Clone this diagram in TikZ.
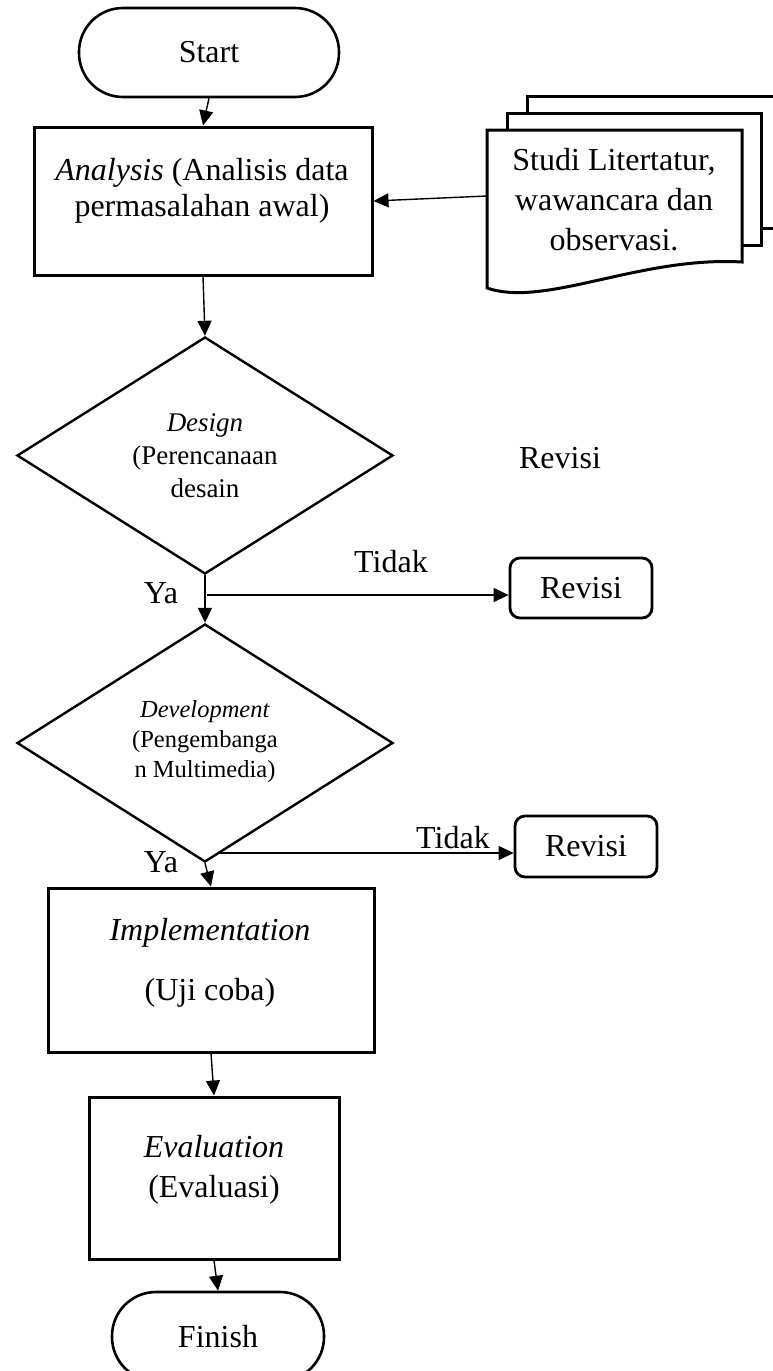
\documentclass[tikz,border=0pt]{standalone}
\usepackage{fontspec}
\setmainfont{Liberation Serif}
\usetikzlibrary{arrows.meta,shapes.geometric}
\begin{document}
\begin{tikzpicture}[x=1pt,y=-1pt,
  box/.style={draw,line width=3pt,inner sep=0pt},
  term/.style={draw,line width=2.6pt,rounded corners=44pt,inner sep=0pt,font=\fontsize{32}{36}\selectfont},
  dec/.style={draw,diamond,line width=2.4pt,inner sep=0pt},
  rev/.style={draw,line width=2.8pt,rounded corners=10pt,inner sep=0pt,minimum width=142pt,minimum height=60pt,font=\fontsize{32}{36}\selectfont},
  docsh/.style={draw,line width=3pt,fill=white},
  txt/.style={inner sep=0pt,anchor=base,align=center,font=\fontsize{32}{36}\selectfont},
  arr/.style={line width=1.4pt,-{Triangle[length=15pt,width=14pt]}},
]
\clip (0,0) rectangle (773,1371);
% terminals
\node[term,minimum width=260pt,minimum height=89pt] (start) at (209,52.5) {Start};
\node[term,minimum width=212pt,minimum height=89pt] (fin) at (218,1336.5) {Finish};
% analysis
\node[box,minimum width=338pt,minimum height=148pt] (ana) at (203,201) {};
\node[txt] (anat) at (202,216) {\textit{Analysis} (Analisis data\\permasalahan awal)};
% documents
\draw[docsh] (527,96) rectangle (795,228);
\draw[docsh] (507,113) rectangle (761,245);
\draw[docsh] (487,130) -- (742,130) -- (742,262)
  .. controls (640,256) and (545,308) .. (487,288) -- cycle;
\node[txt,font=\fontsize{32}{40}\selectfont] (doc) at (614,250) {Studi Litertatur,\\wawancara dan\\observasi.};
\coordinate (docL) at (487,196);
% design
\node[dec,minimum width=376pt,minimum height=237pt] (des) at (205,455.5) {};
\node[txt,font=\fontsize{27}{33}\selectfont] (dest) at (205,497) {\textit{Design}\\(Perencanaan\\desain};
\node[txt] (revlbl) at (560,468) {Revisi};
\node[rev] (rev1) at (581,588) {Revisi};
\node[txt] (tidak1) at (391,572) {Tidak};
\node[txt] (ya1) at (161,603) {Ya};
% development
\node[dec,minimum width=376pt,minimum height=238pt] (dev) at (205,743) {};
\node[txt,font=\fontsize{24.5}{30}\selectfont] (devt) at (205,777) {\textit{Development}\\(Pengembanga\\n Multimedia)};
\node[rev,minimum height=61pt] (rev2) at (586,846.5) {Revisi};
\node[txt] (tidak2) at (453,848) {Tidak};
\node[txt] (ya2) at (161,872) {Ya};
% implementation
\node[box,minimum width=326pt,minimum height=164pt] (impl) at (211,970) {};
\node[txt] (implt) at (210,1000) {\textit{Implementation}\\[24pt](Uji coba)};
% evaluation
\node[box,minimum width=250pt,minimum height=162pt] (eval) at (214,1178) {};
\node[txt,font=\fontsize{32}{40}\selectfont] (evalt) at (214,1197) {\textit{Evaluation}\\(Evaluasi)};
% connectors
\draw[arr] (start.south) -- (ana.north);
\draw[arr] (docL) -- (ana.east);
\draw[arr] (ana.south) -- (des.north);
\draw[arr] (des.south) -- (dev.north);
\coordinate (j1) at (207,595);
\draw[arr] (j1) -- (j1 -| rev1.west);
\coordinate (j2) at (218,853);
\draw[arr] (j2) -- (j2 -| rev2.west);
\draw[arr] (dev.south) -- (impl.north);
\draw[arr] (impl.south) -- (eval.north);
\draw[arr] (eval.south) -- (fin.north);
\end{tikzpicture}
\end{document}
